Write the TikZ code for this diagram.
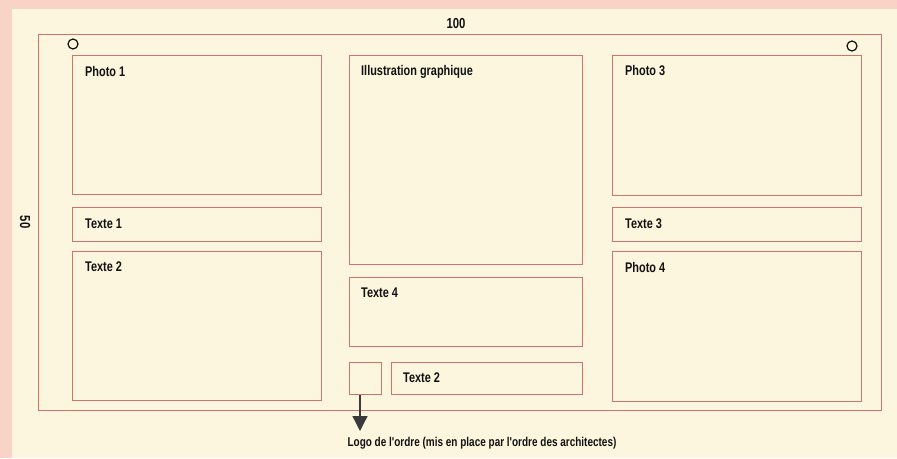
\documentclass[tikz,border=0pt]{standalone}
\usepackage{fontspec}
\setmainfont{Liberation Sans}[FakeStretch=0.78, Ligatures=TeXOff]
\usetikzlibrary{arrows.meta}
\definecolor{pinkbg}{HTML}{F8D3C6}
\definecolor{creambg}{HTML}{FDF6DE}
\definecolor{framec}{HTML}{D2726C}
\definecolor{ink}{HTML}{111111}
\definecolor{arrowc}{HTML}{3A3A3A}
\begin{document}
\begin{tikzpicture}[x=1pt,y=-1pt,
  box/.style={draw=framec, line width=1.1pt, inner sep=0pt, anchor=north west},
  lbl/.style={anchor=west, inner sep=0pt, text=ink, font=\bfseries\fontsize{14}{16}\selectfont},
  dim/.style={inner sep=0pt, text=ink, font=\bfseries\fontsize{14.5}{16}\selectfont},
  hole/.style={draw=ink, line width=1.2pt, circle, minimum size=10pt, inner sep=0pt}]
\useasboundingbox (0,0) rectangle (897,458);
\fill[pinkbg] (0,0) rectangle (897,458);
\fill[creambg] (12,9) rectangle (897,458);
% outer frame
\node[box, minimum width=843pt, minimum height=376pt] (frame) at (38,34) {};
\node[dim] (w100) at (456,24) {100};
\node[dim, rotate=-90] (h50) at (25,222) {50};
\node[hole] (h1) at (73,44) {};
\node[hole] (h2) at (852,46) {};
% left column
\node[box, minimum width=249pt, minimum height=139pt] (photo1) at (72,55) {};
\node[box, minimum width=249pt, minimum height=34pt] (texte1) at (72,207) {};
\node[box, minimum width=249pt, minimum height=149pt] (texte2a) at (72,251) {};
% middle column
\node[box, minimum width=233pt, minimum height=209pt] (illus) at (349,55) {};
\node[box, minimum width=233pt, minimum height=69pt] (texte4) at (349,277) {};
\node[box, minimum width=32pt, minimum height=32pt] (logo) at (349,362) {};
\node[box, minimum width=191pt, minimum height=32pt] (texte2b) at (391,362) {};
% right column
\node[box, minimum width=249pt, minimum height=140pt] (photo3) at (612,55) {};
\node[box, minimum width=249pt, minimum height=34pt] (texte3) at (612,207) {};
\node[box, minimum width=249pt, minimum height=150pt] (photo4) at (612,251) {};
% labels
\node[lbl] (lphoto1) at ([shift={(13pt,-16pt)}]photo1.north west) {Photo 1};
\node[lbl] (ltexte1) at ([shift={(13pt,-17pt)}]texte1.north west) {Texte 1};
\node[lbl] (ltexte2a) at ([shift={(13pt,-16pt)}]texte2a.north west) {Texte 2};
\node[lbl] (lillus) at ([shift={(12pt,-17pt)}]illus.north west) {Illustration graphique};
\node[lbl] (ltexte4) at ([shift={(12pt,-16pt)}]texte4.north west) {Texte 4};
\node[lbl] (ltexte2b) at ([shift={(12pt,-16pt)}]texte2b.north west) {Texte 2};
\node[lbl] (lphoto3) at ([shift={(13pt,-16pt)}]photo3.north west) {Photo 3};
\node[lbl] (ltexte3) at ([shift={(13pt,-17pt)}]texte3.north west) {Texte 3};
\node[lbl] (lphoto4) at ([shift={(13pt,-16pt)}]photo4.north west) {Photo 4};
% arrow and caption
\coordinate (tip) at (360,431);
\draw[arrowc, line width=1.3pt, -{Triangle[width=15pt,length=15pt]}] (logo.south -| tip) -- (tip);
\node[inner sep=0pt, text=ink, font=\bfseries\fontsize{12.8}{15}\selectfont] (caption) at (482,443) {Logo de l'ordre (mis en place par l'ordre des architectes)};
\end{tikzpicture}
\end{document}
